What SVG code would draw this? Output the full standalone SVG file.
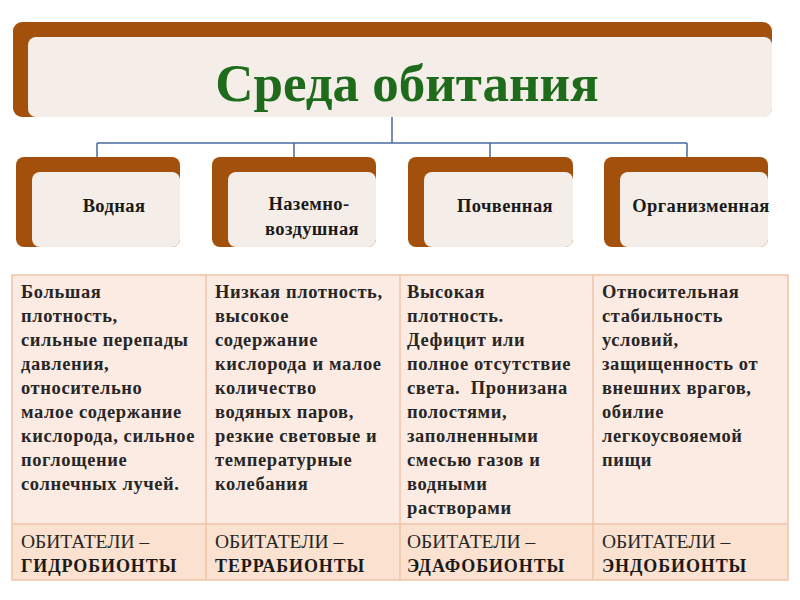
<svg xmlns="http://www.w3.org/2000/svg" width="800" height="600" viewBox="0 0 800 600">
<style>
.brown{fill:#a4500d}
.inner{fill:#f4ede8}
.hdr{font-family:"Liberation Serif",serif;font-weight:bold;font-size:18.5px;fill:#1a1a1a;letter-spacing:0.4px;text-anchor:middle}
.cell{font-family:"Liberation Serif",serif;font-weight:bold;font-size:18.5px;fill:#262626;letter-spacing:0.6px}
.inh{font-family:"Liberation Serif",serif;font-size:19.5px;fill:#262626}
.inhb{font-family:"Liberation Serif",serif;font-weight:bold;font-size:18px;fill:#1a1a1a;letter-spacing:0.9px}
.conn{stroke:#4a6a9a;stroke-width:1.5;fill:none}
.grid{stroke:#f0c4a6;stroke-width:1.5;fill:none}
</style>
<rect width="800" height="600" fill="#ffffff"/>
<g id="title">
<rect x="13" y="22" width="759" height="95" rx="9" class="brown"/>
<rect x="28" y="37" width="744" height="80" rx="8" class="inner"/>
<text x="407" y="101" font-family="Liberation Serif,serif" font-weight="bold" font-size="53" fill="#1f6b1c" text-anchor="middle">Среда обитания</text>
</g>
<g id="connectors">
<path class="conn" d="M392 117 V143 M97 143 H687 M97 143 V157 M294 143 V157 M490 143 V157 M687 143 V157"/>
</g>
<g id="node-vodnaya">
<rect x="16" y="157" width="164" height="90" rx="8" class="brown"/>
<rect x="32" y="172" width="148" height="75" rx="8" class="inner"/>
<text x="114" y="212" class="hdr">Водная</text>
</g>
<g id="node-nazemno">
<rect x="212" y="157" width="164" height="90" rx="8" class="brown"/>
<rect x="228" y="172" width="148" height="75" rx="8" class="inner"/>
<text x="309" y="210" class="hdr">Наземно-</text>
<text x="312" y="235" class="hdr">воздушная</text>
</g>
<g id="node-pochvennaya">
<rect x="408" y="157" width="165" height="90" rx="8" class="brown"/>
<rect x="424" y="172" width="149" height="75" rx="8" class="inner"/>
<text x="505" y="212" class="hdr">Почвенная</text>
</g>
<g id="node-organizm">
<rect x="604" y="157" width="164" height="90" rx="8" class="brown"/>
<rect x="620" y="172" width="148" height="75" rx="8" class="inner"/>
<text x="701" y="212" class="hdr">Организменная</text>
</g>
<g id="table">
<rect x="12" y="275" width="776" height="249" fill="#fcebe3"/>
<rect x="12" y="524" width="776" height="56" fill="#fbe1cf"/>
<path class="grid" d="M12 275 H788 V580 H12 Z M12 524 H788 M206 275 V580 M400 275 V580 M593 275 V580"/>
<text class="cell">
<tspan x="21" y="298">Большая</tspan>
<tspan x="21" y="322">плотность,</tspan>
<tspan x="21" y="346">сильные перепады</tspan>
<tspan x="21" y="370">давления,</tspan>
<tspan x="21" y="394">относительно</tspan>
<tspan x="21" y="418">малое содержание</tspan>
<tspan x="21" y="442">кислорода, сильное</tspan>
<tspan x="21" y="466">поглощение</tspan>
<tspan x="21" y="490">солнечных лучей.</tspan>
</text>
<text class="cell">
<tspan x="215" y="298">Низкая плотность,</tspan>
<tspan x="215" y="322">высокое</tspan>
<tspan x="215" y="346">содержание</tspan>
<tspan x="215" y="370">кислорода и малое</tspan>
<tspan x="215" y="394">количество</tspan>
<tspan x="215" y="418">водяных паров,</tspan>
<tspan x="215" y="442">резкие световые и</tspan>
<tspan x="215" y="466">температурные</tspan>
<tspan x="215" y="490">колебания</tspan>
</text>
<text class="cell">
<tspan x="407" y="298">Высокая</tspan>
<tspan x="407" y="322">плотность.</tspan>
<tspan x="407" y="346">Дефицит или</tspan>
<tspan x="407" y="370">полное отсутствие</tspan>
<tspan x="407" y="394" xml:space="preserve">света.  Пронизана</tspan>
<tspan x="407" y="418">полостями,</tspan>
<tspan x="407" y="442">заполненными</tspan>
<tspan x="407" y="466">смесью газов и</tspan>
<tspan x="407" y="490">водными</tspan>
<tspan x="407" y="514">растворами</tspan>
</text>
<text class="cell">
<tspan x="602" y="298">Относительная</tspan>
<tspan x="602" y="322">стабильность</tspan>
<tspan x="602" y="346">условий,</tspan>
<tspan x="602" y="370">защищенность от</tspan>
<tspan x="602" y="394">внешних врагов,</tspan>
<tspan x="602" y="418">обилие</tspan>
<tspan x="602" y="442">легкоусвояемой</tspan>
<tspan x="602" y="466">пищи</tspan>
</text>
<text class="inh" x="21" y="548">ОБИТАТЕЛИ –</text>
<text class="inhb" x="21" y="572">ГИДРОБИОНТЫ</text>
<text class="inh" x="215" y="548">ОБИТАТЕЛИ –</text>
<text class="inhb" x="215" y="572">ТЕРРАБИОНТЫ</text>
<text class="inh" x="407" y="548">ОБИТАТЕЛИ –</text>
<text class="inhb" x="407" y="572">ЭДАФОБИОНТЫ</text>
<text class="inh" x="602" y="548">ОБИТАТЕЛИ –</text>
<text class="inhb" x="602" y="572">ЭНДОБИОНТЫ</text>
</g>
</svg>
